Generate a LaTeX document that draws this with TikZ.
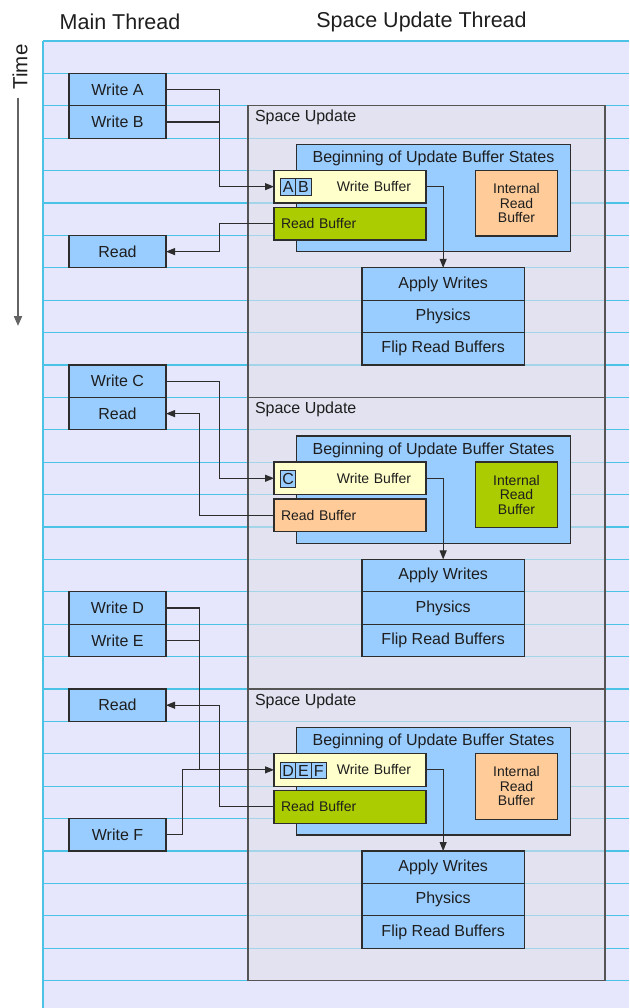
\documentclass[tikz,border=0pt]{standalone}
\usepackage{fontspec}
\setmainfont{Liberation Sans}
\usetikzlibrary{arrows.meta,positioning}

\definecolor{lane}{RGB}{230,230,252}
\definecolor{laneline}{RGB}{75,195,230}
\definecolor{sufill}{RGB}{224,224,232}
\definecolor{sugray}{RGB}{85,85,85}
\definecolor{boxblue}{RGB}{153,204,255}
\definecolor{wbyellow}{RGB}{255,255,204}
\definecolor{rbgreen}{RGB}{170,204,0}
\definecolor{rborange}{RGB}{255,204,153}
\definecolor{edge}{RGB}{45,45,45}
\definecolor{ink}{RGB}{30,30,30}

\newcommand{\spaceupdate}[5]{%
  \node[spacebox] (su#2) at (248,#1) {};
  \node[sulabel] (sl#2) at (255,#1+12) {Space Update};
  \node[statebox] (bs#2) at (296.5,#1+38.5) {};
  \node[plain] (bt#2) at (433.5,#1+52.5) {Beginning of Update Buffer States};
  \node[wbuf] (wb#2) at (274,#1+64.5) {Write Buffer};
  \node[rbuf, fill=#3] (rb#2) at (274,#1+101.5) {Read Buffer};
  \node[ibuf, fill=#4] (ib#2) at (475.5,#1+64.5) {Internal\\Read\\Buffer};
  \node[stepbox] (ap#2) at (362,#1+162) {Apply Writes};
  \node[stepbox, below=0pt of ap#2] (ph#2) {Physics};
  \node[stepbox, below=0pt of ph#2] (fl#2) {Flip Read Buffers};
  \foreach \c [count=\i from 0] in {#5}
    \node[cell] (c#2\c) at (280.5+15.3*\i,#1+73.2) {\c};
}

\begin{document}
\begin{tikzpicture}[x=1pt, y=-1pt,
    every node/.style={text=ink, outer sep=0pt},
    plain/.style={font=\fontsize{16}{19}\selectfont, inner sep=0pt},
    header/.style={font=\fontsize{21.5}{24}\selectfont, inner sep=0pt},
    sulabel/.style={plain, anchor=west},
    mainbox/.style={draw=edge, line width=1.3pt, fill=boxblue, anchor=north west,
      minimum width=97pt, minimum height=32.4pt, inner sep=0pt, font=\fontsize{16}{19}\selectfont},
    stepbox/.style={mainbox, minimum width=162.3pt},
    spacebox/.style={draw=sugray, line width=1.4pt, fill=sufill, fill opacity=0.6,
      anchor=north west, minimum width=357pt, minimum height=291.6pt, inner sep=0pt},
    statebox/.style={draw=edge, line width=1.3pt, fill=boxblue, anchor=north west,
      minimum width=274pt, minimum height=107.5pt, inner sep=0pt},
    wbuf/.style={draw=edge, line width=1.3pt, fill=wbyellow, anchor=north west,
      minimum width=152pt, minimum height=32.7pt, text width=122pt, align=right,
      inner xsep=15pt, inner ysep=0pt, font=\fontsize{14}{17}\selectfont},
    rbuf/.style={wbuf, align=left, text width=138pt, inner xsep=7pt},
    ibuf/.style={draw=edge, line width=1.3pt, anchor=north west, minimum width=82pt,
      minimum height=65.7pt, inner sep=0pt, align=center, font=\fontsize{14}{14.5}\selectfont},
    cell/.style={draw=edge, line width=1pt, fill=boxblue, anchor=north west,
      minimum width=15.3pt, minimum height=16.7pt, inner sep=0pt, font=\fontsize{16}{19}\selectfont},
    conn/.style={draw=edge, line width=1.1pt},
    flow/.style={conn, -{Triangle[length=9pt,width=7pt]}},
    timeline/.style={draw={rgb,255:red,100;green,100;blue,100}, line width=2pt,
      -{Triangle[length=10pt,width=8pt]}}]
			%%%%% START %%%%%
			
			\useasboundingbox (0,0) rectangle (629,1008);
			\fill[lane] (43,41) rectangle (629,1008);
			\foreach \k in {0,...,29}
				\draw[laneline, line width=1.2pt] (43,41+32.4*\k) -- (629,41+32.4*\k);
			\draw[laneline, line width=1.5pt] (43,41) -- (43,1008);
			
			\node[header] (mainhd) at (120,22) {Main Thread};
			\node[header] (spacehd) at (421.5,22) {Space Update Thread};
			
			\node[header, font=\fontsize{20.5}{23}\selectfont, rotate=90] (time) at (20,67) {Time};
			\coordinate (tstart) at (18,98);
			\coordinate (tend) at (18,326);
			\draw[timeline] (tstart) -- (tend);
			
			\spaceupdate{105.8}{1}{rbgreen}{rborange}{A,B}
			\spaceupdate{397.4}{2}{rborange}{rbgreen}{C}
			\spaceupdate{689}{3}{rbgreen}{rborange}{D,E,F}
			
			\node[mainbox] (wra) at (69,73.4) {Write A};
			\node[mainbox, below=0pt of wra] (wrb) {Write B};
			\node[mainbox] (rd1) at (69,235.4) {Read};
			\node[mainbox] (wrc) at (69,365) {Write C};
			\node[mainbox, below=0pt of wrc] (rd2) {Read};
			\node[mainbox] (wrd) at (69,591.8) {Write D};
			\node[mainbox, below=0pt of wrd] (wre) {Write E};
			\node[mainbox] (rd3) at (69,689) {Read};
			\node[mainbox] (wrf) at (69,818.6) {Write F};
			
			\coordinate (j1) at (219.5,0);
			\coordinate (j2) at (199.3,0);
			\coordinate (j3) at (182.7,0);
			
			\draw[flow] (wra.east) -| (j1 |- wb1.west) -- (wb1.west);
			\draw[conn] (wrb.east) -- (wrb.east -| j1);
			\draw[flow] (rb1.west) -| (j1 |- rd1.east) -- (rd1.east);
			\draw[flow] (wb1.east) -| (ap1.north);
			
			\draw[flow] (wrc.east) -| (j1 |- wb2.west) -- (wb2.west);
			\draw[flow] (rb2.west) -| (j2 |- rd2.east) -- (rd2.east);
			\draw[flow] (wb2.east) -| (ap2.north);
			
			\draw[flow] (wrd.east) -| (j2 |- wb3.west) -- (wb3.west);
			\draw[conn] (wre.east) -- (wre.east -| j2);
			\draw[conn] (wrf.east) -| (j3 |- wb3.west) -- (j2 |- wb3.west);
			\draw[flow] (rb3.west) -| (j1 |- rd3.east) -- (rd3.east);
			\draw[flow] (wb3.east) -| (ap3.north);
			
			%%%%% END %%%%%
\end{tikzpicture}
\end{document}
